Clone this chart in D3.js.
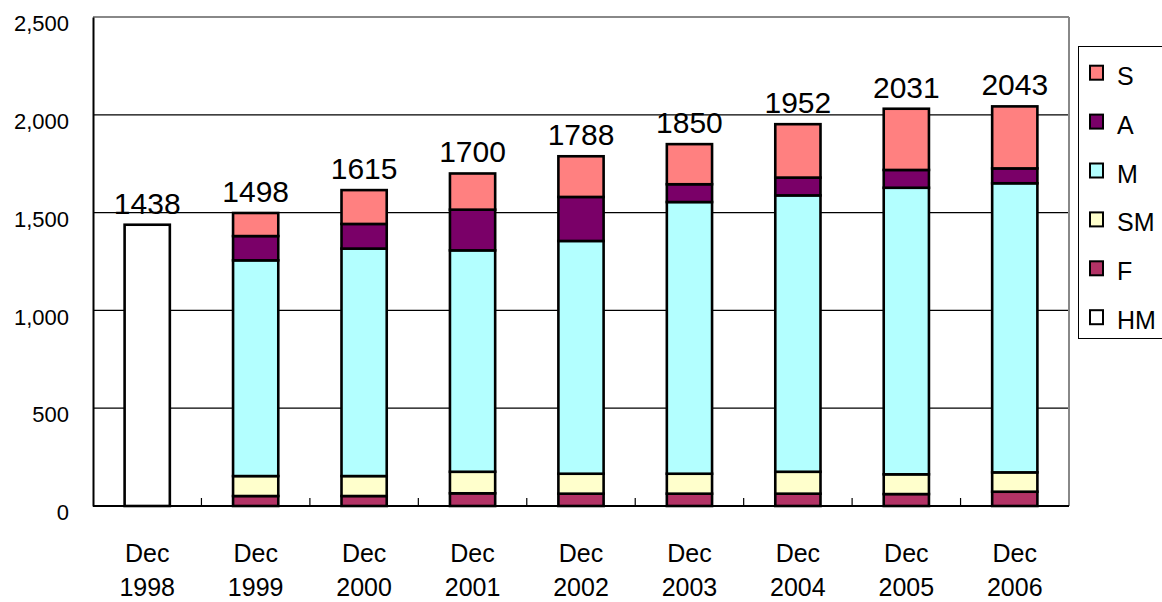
<!DOCTYPE html>
<html>
<head>
<meta charset="utf-8">
<script src="https://d3js.org/d3.v7.min.js"></script>
<style>
  body { margin: 0; background: #fff; }
  svg { display: block; font-family: "Liberation Sans", Arial, sans-serif; }
</style>
</head>
<body>
<script>
// data
var years = ['1998', '1999', '2000', '2001', '2002', '2003', '2004', '2005', '2006']
var HM = [1438, 0, 0, 0, 0, 0, 0, 0, 0]
var F = [0, 51, 51, 65, 63, 63, 63, 61, 73]
var SM = [0, 102, 102, 110, 102, 102, 112, 101, 99]
var M = [0, 1103, 1163, 1132, 1190, 1389, 1413, 1465, 1478]
var A = [0, 124, 126, 208, 225, 91, 91, 91, 76]
var S = [0, 118, 173, 185, 208, 205, 273, 313, 317]
var totals = [1438, 1498, 1615, 1700, 1788, 1850, 1952, 2031, 2043]
var yTicks = [0, 500, 1000, 1500, 2000, 2500]

var seriesKeys = ['HM', 'F', 'SM', 'M', 'A', 'S'] // bottom to top
var seriesData = { HM: HM, F: F, SM: SM, M: M, A: A, S: S }
var colors = { S: '#ff8080', A: '#7a0068', M: '#b3ffff', SM: '#ffffcc', F: '#b33366', HM: '#ffffff' }

var w = 1162, h = 602,
    plotLeft = 93, plotRight = 1069, plotTop = 17, plotBottom = 506

var svg = d3.select('body').append('svg')
    .attr('width', w)
    .attr('height', h)

var x = d3.scaleBand().domain(years).range([plotLeft, plotRight]).paddingInner(0.583).paddingOuter(0.2915)
var y = d3.scaleLinear().domain([0, 2500]).range([plotBottom, plotTop])

//gridlines
svg.append('g').selectAll('line')
    .data(yTicks.filter(function(d) { return d > 0 }))
    .enter().append('line')
    .attr('x1', plotLeft).attr('x2', plotRight)
    .attr('y1', function(d) { return y(d) }).attr('y2', function(d) { return y(d) })
    .attr('stroke', function(d) { return d == 2500 ? '#888' : '#000' })
    .attr('stroke-width', function(d) { return d == 2500 ? 2 : 1.2 })

//right border
svg.append('line')
    .attr('x1', plotRight).attr('x2', plotRight).attr('y1', plotTop).attr('y2', plotBottom)
    .attr('stroke', '#888').attr('stroke-width', 2)

//y axis
var yAxis = svg.append('g')
    .attr('transform', 'translate(' + plotLeft + ',0)')
    .call(d3.axisLeft(y).tickValues(yTicks).tickFormat(d3.format(',')).tickSize(0).tickPadding(24))
yAxis.select('.domain').attr('stroke', '#000').attr('stroke-width', 2)
yAxis.selectAll('text')
    .attr('font-size', 22)
    .attr('font-family', '"Liberation Sans", Arial, sans-serif')
    .attr('fill', '#000')
    .attr('dy', '0.62em')

//stacked bars
var rows = years.map(function(yr, i) {
    var r = { year: yr }
    seriesKeys.forEach(function(k) { r[k] = seriesData[k][i] })
    return r
})
var stacked = d3.stack().keys(seriesKeys)(rows)

svg.append('g').selectAll('g')
    .data(stacked)
    .enter().append('g')
    .attr('fill', function(d) { return colors[d.key] })
    .selectAll('rect')
    .data(function(d) { return d.filter(function(p) { return p[1] - p[0] > 0 }) })
    .enter().append('rect')
    .attr('x', function(d) { return x(d.data.year) })
    .attr('width', x.bandwidth())
    .attr('y', function(d) { return y(d[1]) })
    .attr('height', function(d) { return y(d[0]) - y(d[1]) })
    .attr('stroke', '#000')
    .attr('stroke-width', 2.6)

//x axis line and ticks
svg.append('line')
    .attr('x1', plotLeft).attr('x2', plotRight).attr('y1', plotBottom).attr('y2', plotBottom)
    .attr('stroke', '#000').attr('stroke-width', 2)

var gap = x.step() - x.bandwidth()
svg.append('g').selectAll('line')
    .data(years.slice(1))
    .enter().append('line')
    .attr('x1', function(d) { return x(d) - gap / 2 })
    .attr('x2', function(d) { return x(d) - gap / 2 })
    .attr('y1', plotBottom).attr('y2', plotBottom - 8)
    .attr('stroke', '#000').attr('stroke-width', 1.2)

var xl = svg.append('g').selectAll('text')
    .data(years)
    .enter().append('text')
    .attr('text-anchor', 'middle')
    .attr('font-size', 25)
    .attr('fill', '#000')
xl.append('tspan')
    .attr('x', function(d) { return x(d) + x.bandwidth() / 2 })
    .attr('y', 562)
    .text('Dec')
xl.append('tspan')
    .attr('x', function(d) { return x(d) + x.bandwidth() / 2 })
    .attr('y', 596)
    .text(function(d) { return d })

//total labels
svg.append('g').selectAll('text')
    .data(years)
    .enter().append('text')
    .attr('x', function(d) { return x(d) + x.bandwidth() / 2 })
    .attr('y', function(d, i) { return y(totals[i]) - 11 })
    .attr('text-anchor', 'middle')
    .attr('font-size', 30)
    .attr('fill', '#000')
    .text(function(d, i) { return totals[i] })

//legend
var legendKeys = seriesKeys.slice().reverse()
svg.append('rect')
    .attr('x', 1078.5).attr('y', 46.5)
    .attr('width', 100).attr('height', 292)
    .attr('fill', '#fff').attr('stroke', '#000').attr('stroke-width', 1)

var lg = svg.append('g').selectAll('g')
    .data(legendKeys)
    .enter().append('g')
    .attr('transform', function(d, i) { return 'translate(1090,' + (72.7 + i * 48.9) + ')' })
lg.append('rect')
    .attr('x', 0).attr('y', -7)
    .attr('width', 13).attr('height', 14)
    .attr('fill', function(d) { return colors[d] })
    .attr('stroke', '#000').attr('stroke-width', 2)
lg.append('text')
    .attr('x', 27).attr('y', 12)
    .attr('font-size', 25)
    .attr('fill', '#000')
    .text(function(d) { return d })
</script>
</body>
</html>
